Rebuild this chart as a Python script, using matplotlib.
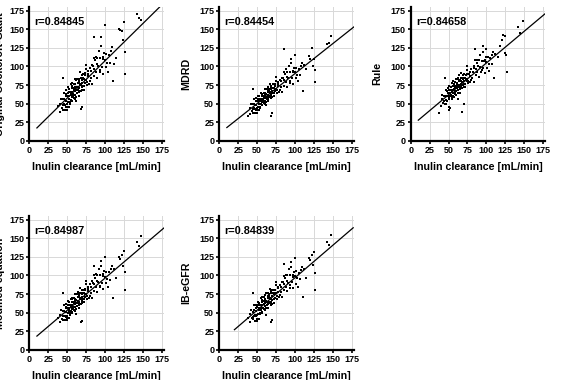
import matplotlib
matplotlib.use("Agg")
import matplotlib.pyplot as plt
import numpy as np

plt.rcParams["font.family"] = ["Liberation Sans", "DejaVu Sans"]
plt.rcParams["font.weight"] = "bold"

# inulin clearance, shared by all panels [mL/min]
inulin = [38, 40, 41, 43, 44, 45, 46, 46, 47, 48,
          48, 49, 49, 50, 50, 51, 51, 52, 52, 53,
          53, 54, 54, 55, 55, 55, 56, 56, 57, 57,
          58, 58, 59, 59, 60, 60, 60, 61, 61, 62,
          62, 63, 63, 64, 64, 65, 65, 66, 66, 67,
          67, 68, 68, 69, 69, 70, 70, 71, 72, 72,
          73, 74, 75, 75, 76, 77, 78, 79, 80, 81,
          82, 83, 84, 85, 86, 87, 88, 89, 90, 91,
          92, 93, 94, 95, 96, 97, 98, 99, 100, 101,
          102, 104, 105, 107, 108, 110, 112, 115, 118, 120,
          122, 124, 125, 126, 127, 142, 145, 148, 45, 68,
          70, 85, 95, 100, 56, 62, 75, 88, 50, 64,
          42, 44, 46, 47, 49, 50, 51, 52, 53, 54,
          55, 56, 57, 58, 59, 60, 61, 62, 63, 64,
          65, 66, 67, 68, 69, 70, 71, 72, 73, 74,
          76, 78, 80, 83, 86, 90, 94, 98, 103, 109]

cockcroft = [47, 39, 50, 44, 56, 42, 56, 49, 41, 63,
             46, 68, 54, 61, 45, 65, 52, 60, 45, 70,
             57, 66, 52, 76, 62, 55, 71, 59, 66, 53,
             71, 63, 77, 58, 70, 62, 83, 67, 76, 59,
             73, 64, 83, 72, 68, 81, 60, 78, 71, 92,
             67, 77, 85, 72, 82, 68, 78, 90, 74, 83,
             88, 78, 97, 82, 75, 90, 87, 76, 98, 84,
             94, 76, 100, 112, 87, 108, 93, 103, 85, 101,
             121, 92, 111, 127, 99, 110, 90, 118, 109, 99,
             117, 93, 116, 104, 121, 81, 103, 112, 150, 149,
             148, 136, 160, 120, 90, 170, 165, 162, 85, 43,
             45, 140, 140, 155, 78, 54, 102, 113, 42, 83,
             57, 48, 65, 48, 61, 49, 72, 56, 66, 49,
             65, 54, 74, 60, 68, 56, 73, 82, 68, 78,
             66, 83, 75, 67, 88, 74, 84, 69, 82, 91,
             79, 94, 80, 102, 97, 112, 95, 113, 105, 126]

mdrd = [33, 36, 44, 40, 49, 38, 49, 44, 38, 54,
        41, 58, 48, 53, 41, 56, 46, 53, 41, 60,
        50, 57, 46, 65, 54, 49, 61, 52, 57, 48,
        61, 55, 65, 51, 60, 54, 70, 58, 65, 52,
        63, 56, 70, 62, 59, 69, 53, 67, 61, 77,
        59, 66, 72, 62, 70, 59, 67, 76, 64, 71,
        74, 67, 81, 70, 65, 76, 74, 66, 82, 72,
        80, 66, 84, 93, 74, 90, 79, 86, 73, 85,
        100, 78, 93, 105, 84, 92, 77, 98, 92, 84,
        98, 80, 97, 88, 101, 67, 102, 97, 114, 110,
        125, 101, 110, 95, 79, 130, 131, 141, 70, 33,
        37, 124, 110, 115, 62, 48, 86, 96, 38, 72,
        50, 43, 56, 43, 53, 44, 61, 50, 57, 44,
        56, 48, 63, 52, 59, 50, 63, 70, 59, 66,
        57, 70, 65, 58, 74, 64, 71, 60, 70, 77,
        68, 79, 69, 85, 82, 93, 81, 94, 88, 105]

rule = [37, 47, 56, 51, 61, 50, 61, 55, 49, 67,
        53, 71, 60, 65, 45, 68, 58, 65, 44, 73,
        62, 69, 58, 78, 66, 61, 74, 64, 70, 59,
        74, 67, 79, 63, 73, 67, 83, 71, 78, 64,
        75, 68, 84, 75, 72, 82, 65, 80, 74, 91,
        71, 79, 85, 75, 83, 72, 80, 90, 77, 84,
        88, 80, 95, 83, 78, 90, 87, 79, 96, 85,
        93, 79, 98, 108, 88, 105, 93, 101, 86, 99,
        115, 92, 107, 120, 98, 107, 91, 113, 106, 98,
        113, 94, 112, 103, 116, 85, 117, 113, 127, 135,
        142, 141, 118, 116, 93, 153, 145, 161, 85, 39,
        50, 124, 128, 124, 80, 57, 101, 108, 42, 88,
        62, 54, 68, 55, 65, 56, 74, 61, 69, 56,
        69, 60, 76, 65, 71, 62, 75, 83, 72, 80,
        70, 84, 77, 71, 88, 77, 85, 73, 83, 90,
        81, 93, 82, 100, 96, 108, 95, 109, 103, 120]

modified = [43, 38, 47, 42, 52, 40, 52, 46, 40, 58,
            44, 62, 51, 57, 43, 60, 49, 56, 43, 64,
            53, 61, 49, 69, 58, 52, 65, 55, 61, 50,
            65, 58, 70, 54, 64, 58, 75, 62, 69, 55,
            67, 59, 75, 66, 63, 74, 56, 71, 65, 83,
            62, 70, 77, 66, 75, 63, 71, 81, 68, 76,
            80, 71, 88, 75, 69, 82, 79, 70, 88, 77,
            85, 70, 90, 100, 79, 97, 84, 93, 78, 91,
            108, 84, 100, 113, 90, 99, 82, 106, 98, 90,
            105, 85, 104, 94, 108, 70, 109, 96, 125, 122,
            127, 113, 133, 104, 81, 145, 140, 153, 76, 37,
            39, 113, 120, 125, 70, 48, 92, 102, 40, 78,
            53, 45, 60, 46, 57, 46, 66, 52, 61, 47,
            60, 51, 68, 56, 63, 52, 67, 75, 63, 71,
            61, 76, 69, 62, 80, 68, 76, 64, 75, 82,
            72, 85, 73, 92, 88, 101, 86, 102, 95, 113]

ib_egfr = [43, 38, 48, 43, 51, 41, 53, 45, 39, 57,
           45, 61, 52, 58, 42, 61, 48, 57, 42, 63,
           54, 60, 50, 70, 57, 53, 64, 56, 60, 51,
           66, 57, 71, 55, 63, 59, 74, 63, 68, 56,
           66, 60, 76, 65, 64, 73, 57, 72, 64, 82,
           63, 69, 78, 65, 76, 62, 72, 80, 69, 75,
           81, 70, 87, 76, 68, 83, 78, 71, 87, 78,
           84, 71, 91, 99, 80, 96, 85, 92, 79, 90,
           109, 83, 101, 112, 91, 98, 83, 105, 99, 89,
           106, 84, 103, 95, 107, 71, 108, 97, 124, 121,
           128, 114, 132, 103, 81, 145, 141, 154, 76, 38,
           40, 115, 118, 124, 71, 47, 91, 101, 39, 77,
           54, 44, 61, 47, 56, 47, 65, 53, 60, 48,
           61, 50, 67, 57, 62, 53, 66, 76, 64, 70,
           62, 75, 70, 61, 81, 67, 77, 63, 76, 81,
           73, 84, 74, 91, 89, 100, 87, 101, 96, 112]

ylabels = ["Original Cockcroft-Gault", "MDRD", "Rule", "Modified equation", "IB-eGFR"]
r_values = ["r=0.84845", "r=0.84454", "r=0.84658", "r=0.84987", "r=0.84839"]
series = [cockcroft, mdrd, rule, modified, ib_egfr]
# regression lines: slope, intercept, x start, x end
slopes = [1.0, 0.804, 0.852, 0.864, 0.871]
intercepts = [7.5, 10.0, 19.4, 10.0, 9.8]
line_start = [10, 10, 10, 10, 20]
line_end = [178, 178, 178, 178, 177]

ticks = [0, 25, 50, 75, 100, 125, 150, 175]

fig = plt.figure(figsize=(5.73, 3.80), dpi=100)
positions = [(0.0512, 0.629), (0.3827, 0.629), (0.7168, 0.629),
             (0.0512, 0.079), (0.3827, 0.079)]

for i in range(5):
    ax = fig.add_axes([positions[i][0], positions[i][1], 0.235, 0.353])
    ax.set_xlim(0, 178)
    ax.set_ylim(0, 180)
    ax.set_xticks(ticks)
    ax.set_yticks(ticks)
    ax.grid(True, color="#d8d8d8", linewidth=0.7)
    ax.set_axisbelow(True)
    for s in ["top", "right"]:
        ax.spines[s].set_visible(False)
    for s in ["left", "bottom"]:
        ax.spines[s].set_linewidth(1.6)
    ax.tick_params(direction="out", length=2.5, width=1.2, labelsize=6.5, pad=1.2)
    for lab in ax.get_xticklabels() + ax.get_yticklabels():
        lab.set_fontweight("bold")

    ax.scatter(inulin, series[i], s=4, marker="s", color="black", linewidths=0, zorder=3)
    xs = np.array([line_start[i], line_end[i]])
    ax.plot(xs, slopes[i] * xs + intercepts[i], color="black", linewidth=0.9, zorder=4)

    ax.text(7, 159, r_values[i], fontsize=7.8, fontweight="bold", va="center", ha="left")
    ax.set_xlabel("Inulin clearance [mL/min]", fontsize=7.7, fontweight="bold", labelpad=5)
    ax.set_ylabel(ylabels[i], fontsize=7.7, fontweight="bold")
    if i in (0, 3):
        ax.yaxis.set_label_coords(-0.18, 0.5)
    else:
        ax.yaxis.set_label_coords(-0.21, 0.5)

fig.savefig("out.png", dpi=100)
